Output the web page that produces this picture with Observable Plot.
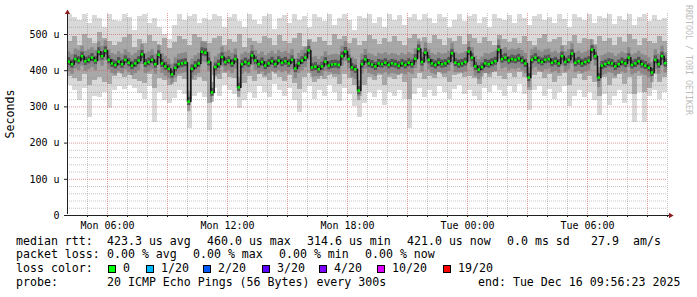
<!DOCTYPE html>
<html><head><meta charset="utf-8">
<script src="https://cdn.jsdelivr.net/npm/d3@7"></script>
<script src="https://cdn.jsdelivr.net/npm/@observablehq/plot@0.6"></script>
<style>
body{margin:0;background:#fff;}
#wrap{position:relative;width:697px;height:297px;font-family:"DejaVu Sans Mono",monospace;overflow:hidden;}
#wrap svg{position:absolute;left:0;top:0;}
.t{position:absolute;font-size:11.6px;white-space:pre;color:#000;line-height:1;}
.box{position:absolute;width:6px;height:6px;border:1px solid #000;}
</style></head><body><div id="wrap"></div>
<script>
// ---- data (values in microseconds) ----
const startTime = Date.UTC(2025, 11, 15, 4, 0, 0); // Mon 04:00
const medianRtt = [
425,418,432,428,440,426,430,436,428,452,
440,455,430,420,416,425,418,430,422,414,
420,428,445,420,424,430,418,444,420,412,
405,390,408,418,420,422,314.6,405,414,420,
452,450,424,340,410,418,438,424,428,420,
432,354,418,424,420,442,428,418,424,414,
420,426,418,428,422,426,420,430,406,420,
428,436,456,409,411,404,412,425,414,417,
418,416,440,453,432,409,404,345,418,431,
420,417,412,420,418,422,416,420,418,414,
420,416,422,418,433,460,424,450,430,420,
416,422,418,420,426,448,422,418,420,424,
453,436,412,403,410,420,418,422,426,458,
432,436,428,432,430,434,428,420,381,430,
436,428,424,430,432,422,426,420,440,424,
430,447,422,426,420,424,428,458,440,381,
414,418,422,420,412,418,424,420,436,416,
420,426,418,414,408,395,430,418,440,421];
const smokeMax = [
555,548,540,555,530,552,545,520,555,540,
535,555,548,510,550,555,530,545,520,500,
485,525,555,540,550,555,530,545,540,555,
550,520,548,555,535,520,555,540,528,550,
555,515,545,552,530,555,540,550,520,555,
548,535,555,525,545,555,540,510,550,545,
555,530,548,520,555,540,552,525,548,555,
540,555,545,530,555,548,520,540,555,535,
550,555,530,548,520,555,545,540,552,530,
555,545,525,550,555,540,548,530,555,542,
520,555,548,540,555,530,550,545,555,528,
550,540,555,525,548,555,535,552,540,545];
const smokeHi = [
480,495,470,500,488,475,505,490,482,470,
478,492,500,465,485,475,498,480,470,490,
460,478,495,485,470,500,492,480,475,488,
495,470,485,478,500,465,490,482,475,495,
488,470,498,480,475,490,502,468,485,478,
492,480,470,500,485,495,475,488,470,480,
498,485,472,490,478,495,482,470,488,500,
480,492,475,498,485,470,490,480,495,472,
500,488,475,492,480,470,498,485,478,490,
475,495,482,470,488,500,478,485,492,470,
480,498,475,490,485,472,495,480,488,470,
492,478,500,485,470,490,482,475,495,480];
const smokeLo = [
385,378,370,390,360,372,380,368,362,385,
392,380,388,375,370,365,390,350,378,372,
360,368,385,375,320,372,380,370,310,388,
375,392,380,378,350,365,385,370,390,382,
372,395,380,370,388,365,348,380,392,368,
385,375,395,380,362,390,378,358,330,360,
382,372,388,358,380,375,390,368,320,378,
392,375,385,378,395,382,368,388,396,380,
385,378,362,392,380,395,385,375,392,382,
395,380,345,388,395,378,390,368,385,392,
360,378,390,372,385,368,330,380,360,378,
390,362,380,335,385,340,350,390,368,382];
const smokeMin = [
360,345,318,350,272,330,325,340,295,345,
355,348,360,350,338,320,355,258,340,318,
310,322,345,335,240,330,340,325,235,350,
330,360,345,335,295,318,340,322,355,340,
325,362,345,330,350,318,285,340,355,320,
345,330,360,340,315,350,335,300,272,310,
340,325,345,305,340,330,345,320,240,335,
350,325,345,330,355,340,320,348,360,335,
345,330,318,350,340,360,345,330,355,340,
362,335,290,345,355,330,348,320,340,355,
300,330,345,325,340,318,276,335,305,330,
345,310,335,257,340,258,330,345,320,340];
const yTicks = [0, 100, 200, 300, 400, 500];
const yTickLabels = ["0", "100 u", "200 u", "300 u", "400 u", "500 u"];
const xTickHours = [2, 8, 14, 20, 26]; // hours after start
const xTickLabels = ["Mon 06:00", "Mon 12:00", "Mon 18:00", "Tue 00:00", "Tue 06:00"];
const yLabel = "Seconds";
const rttLabel = "median rtt:";
const rttStats = ["423.3 us avg", "460.0 us max", "314.6 us min", "421.0 us now", "0.0 ms sd", "27.9", "am/s"];
const lossLabel = "packet loss:";
const lossStats = ["0.00 % avg", "0.00 % max", "0.00 % min", "0.00 % now"];
const colorLabel = "loss color:";
const lossNames = ["0", "1/20", "2/20", "3/20", "4/20", "10/20", "19/20"];
const lossColors = ["#00ff00", "#00b8ff", "#0059ff", "#5e00ff", "#7e00ff", "#dd00ff", "#ff0000"];
const probeLabel = "probe:";
const probeText = "20 ICMP Echo Pings (56 Bytes) every 300s";
const endText = "end: Tue Dec 16 09:56:23 2025";
const watermark = "RRDTOOL / TOBI OETIKER";

// ---- chart ----
const H = 3600e3, MIN = 60e3;
const medT = i => new Date(startTime + i * 10 * MIN);
const bandT = j => new Date(startTime + j * 15 * MIN);
const endTime = new Date(startTime + 30 * H);
const medIdx = d3.range(medianRtt.length);
const bandIdx = d3.range(smokeMax.length);
const minorY = d3.range(20, 560, 20).filter(v => v % 100 !== 0);
const majorY = [100, 200, 300, 400, 500];
const hours = d3.range(1, 31);
const hourOfDay = k => (4 + k) % 24;
const minorX = hours.filter(k => hourOfDay(k) % 3 !== 0).map(k => new Date(startTime + k * H));
const majorX = hours.filter(k => hourOfDay(k) % 3 === 0).map(k => new Date(startTime + k * H));
const allX = hours.map(k => new Date(startTime + k * H));
const axisColor = "#202020";
const arrowColor = "#8b1f1f";

const chart = Plot.plot({
  width: 697, height: 232,
  marginLeft: 67, marginRight: 30, marginTop: 13, marginBottom: 17,
  x: {type: "utc", domain: [new Date(startTime), endTime], axis: null},
  y: {domain: [0, 558], axis: null},
  style: {fontFamily: "DejaVu Sans Mono", fontSize: "10px", background: "white", overflow: "visible"},
  marks: [
    Plot.rect(bandIdx, {x1: j => bandT(j), x2: j => bandT(j + 1), y1: j => smokeMin[j], y2: j => smokeMax[j], fill: "#d9d9d9", shapeRendering: "crispEdges"}),
    Plot.rect(bandIdx, {x1: j => bandT(j), x2: j => bandT(j + 1), y1: j => smokeLo[j], y2: j => smokeHi[j], fill: "#a8a8a8", shapeRendering: "crispEdges"}),
    Plot.rect(medIdx, {x1: i => medT(i), x2: i => medT(i + 1), y1: i => medianRtt[i], y2: i => medianRtt[i], insetTop: -10, insetBottom: -10, fill: "#707070", fillOpacity: 0.55}),
    Plot.rect(medIdx, {x1: i => medT(i), x2: i => medT(i + 1), y1: i => medianRtt[i], y2: i => medianRtt[i], insetTop: -4, insetBottom: -4, fill: "#3c3c3c", fillOpacity: 0.7}),
    Plot.ruleY(minorY, {stroke: "#8c8c8c", strokeOpacity: 0.5, strokeDasharray: "1,1"}),
    Plot.ruleX(minorX, {stroke: "#8c8c8c", strokeOpacity: 0.5, strokeDasharray: "1,1"}),
    Plot.ruleY(majorY, {stroke: "#d05858", strokeOpacity: 0.6, strokeDasharray: "1,1"}),
    Plot.ruleX(majorX, {stroke: "#d05858", strokeOpacity: 0.6, strokeDasharray: "1,1"}),
    Plot.line(medIdx, {x: i => medT(i), y: i => medianRtt[i], curve: "step-after", stroke: "#111", strokeWidth: 1.5}),
    Plot.ruleY(medIdx, {y: i => medianRtt[i], x1: i => medT(i), x2: i => medT(i + 1), insetLeft: 0.4, insetRight: 0.4, stroke: lossColors[0], strokeWidth: 2.5}),
    // axes
    Plot.ruleY(yTicks, {x1: new Date(startTime), x2: new Date(startTime), insetLeft: -3, stroke: axisColor}),
    Plot.ruleX(allX, {y1: 0, y2: 0, insetBottom: -2, stroke: axisColor}),
    Plot.ruleX([new Date(startTime)], {y1: 0, y2: 558, insetTop: -1, stroke: axisColor}),
    Plot.ruleY([0], {x1: new Date(startTime), x2: endTime, insetRight: -3, stroke: axisColor}),
    Plot.dot([0], {x: () => new Date(startTime), y: () => 558, symbol: "triangle", r: 2, fill: arrowColor, stroke: "none", dy: -1}),
    Plot.dot([0], {x: () => endTime, y: () => 0, symbol: "triangle", r: 2, rotate: 90, fill: arrowColor, stroke: "none", dx: 3}),
    Plot.text(yTicks, {x: () => new Date(startTime), y: d => d, text: (d, i) => yTickLabels[i], textAnchor: "end", dx: -8, fill: "#000"}),
    Plot.text(xTickHours, {x: h => new Date(startTime + h * H), y: () => 0, text: (d, i) => xTickLabels[i], dy: 10, fill: "#000"})
  ]
});

const wrap = document.getElementById("wrap");
wrap.appendChild(chart);

function addText(str, left, top, extra) {
  const d = document.createElement("div");
  d.className = "t";
  d.textContent = str;
  d.style.left = left + "px";
  d.style.top = top + "px";
  if (extra) Object.assign(d.style, extra);
  wrap.appendChild(d);
  return d;
}
// y-axis title
addText(yLabel, 11, 114, {transform: "translate(-50%,-50%) rotate(-90deg)"});
// watermark
addText(watermark, 688.5, 60, {fontSize: "8.3px", color: "#bcbcbc", transform: "translate(-50%,-50%) rotate(90deg)"});

const rowTop = [235.5, 249.2, 263.2, 276.9];
addText(rttLabel, 16, rowTop[0]);
const rttX = [107, 207, 307, 407, 507, 591, 633];
rttStats.forEach((s, i) => addText(s, rttX[i], rowTop[0]));
addText(lossLabel, 16, rowTop[1]);
const lossX = [107, 193, 279, 365];
lossStats.forEach((s, i) => addText(s, lossX[i], rowTop[1]));
addText(colorLabel, 16, rowTop[2]);
const boxX = [108, 146, 203, 262, 319, 377, 443];
lossNames.forEach((s, i) => {
  const b = document.createElement("div");
  b.className = "box";
  b.style.left = boxX[i] + "px";
  b.style.top = "265px";
  b.style.background = lossColors[i];
  wrap.appendChild(b);
  addText(s, boxX[i] + 15, rowTop[2]);
});
addText(probeLabel, 16, rowTop[3]);
addText(probeText, 107, rowTop[3]);
addText(endText, 478, rowTop[3]);
</script>
</body></html>
